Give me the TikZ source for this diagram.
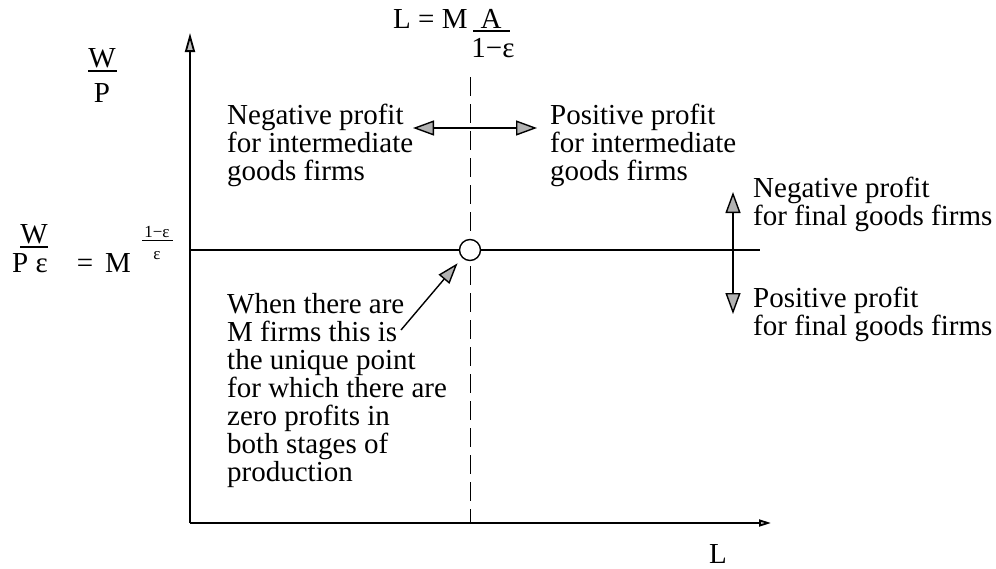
\documentclass[tikz,border=0pt]{standalone}
\usepackage{fontspec}
\setmainfont{Liberation Serif}
\usepackage{tikz}
\usetikzlibrary{arrows.meta, positioning}

\begin{document}
\begin{tikzpicture}[
    x=1pt, y=-1pt,
    txt/.style={inner sep=0pt, anchor=north west, align=left, font=\fontsize{29}{28}\selectfont},
    lab/.style={inner sep=0pt, anchor=base, font=\fontsize{29}{28}\selectfont},
    sup/.style={inner sep=0pt, anchor=base, font=\fontsize{17}{17}\selectfont},
    bar/.style={line width=1.3pt},
    axis/.style={line width=1.8pt, -{Triangle[length=19pt, width=10pt, fill=gray!50]}},
    twoway/.style={line width=1.4pt, {Triangle[length=21pt, width=15pt, fill=gray!60]}-{Triangle[length=21pt, width=15pt, fill=gray!60]}},
    pointer/.style={line width=1.4pt, -{Triangle[length=21pt, width=14pt, fill=gray!60]}}
]
\useasboundingbox (0,0) rectangle (996,568);

% Axes
\coordinate (origin) at (190,523);
\coordinate (ytop) at (190,33);
\coordinate (xend) at (771,523);
\draw [axis] (origin) -- (ytop);
\draw [axis, -{Triangle[length=12pt, width=7pt, fill=gray!50]}] (origin) -- (xend);

% Zero-profit wage and employment
\coordinate (wleft) at (190,250);
\coordinate (wright) at (760,250);
\draw [line width=1.8pt] (wleft) -- (wright);
\coordinate (ltop) at (470,77);
\coordinate (lbot) at (470,523);
\draw [line width=0.9pt, dash pattern=on 19pt off 8pt] (ltop) -- (lbot);
\node (eq) [draw, circle, fill=white, line width=1.4pt, minimum size=21pt, inner sep=0pt] at (470,250) {};

% Axis labels
\node (wnum) [lab] at (102,67) {W};
\node (pden) [lab] at (102,102) {P};
\draw [bar] (88,71) -- (117,71);
\node (lx) [lab] at (718,563) {L};

\node (wnum2) [lab] at (34,243) {W};
\node (pden2) [lab] at (30,272) {P ε};
\draw [bar] (20,247) -- (48,247);
\node (eqsign) [lab] at (85,272) {=};
\node (mbase) [lab] at (118,272) {M};
\node (supnum) [sup] at (157,237) {1−ε};
\node (supden) [sup] at (157,259) {ε};
\draw [line width=0.9pt] (142,240) -- (173,240);

\node (lbase) [lab, anchor=base west] at (393,28) {L = M};
\node (anum) [lab] at (491,28) {A};
\node (aden) [lab] at (493,57) {1−ε};
\draw [bar] (473,31) -- (510,31);

% Regions
\node (negint) [txt] at (227,104) {Negative profit\\for intermediate\\goods firms};
\node (posint) [txt] at (550,104) {Positive profit\\for intermediate\\goods firms};
\node (negfin) [txt] at (753,177) {Negative profit\\for final goods firms};
\node (posfin) [txt] at (753,287) {Positive profit\\for final goods firms};
\node (note) [txt] at (227,293) {When there are\\M firms this is\\the unique point\\for which there are\\zero profits in\\both stages of\\production};

% Arrows
\coordinate (lefttip) at (413,128);
\coordinate (righttip) at (537,128);
\draw [twoway] (lefttip) -- (righttip);
\coordinate (uptip) at (733,192);
\coordinate (downtip) at (733,314);
\draw [twoway] (uptip) -- (downtip);
\coordinate (notetail) at (401,330);
\draw [pointer, shorten >=7pt] (notetail) -- (eq.south west);

\end{tikzpicture}
\end{document}
